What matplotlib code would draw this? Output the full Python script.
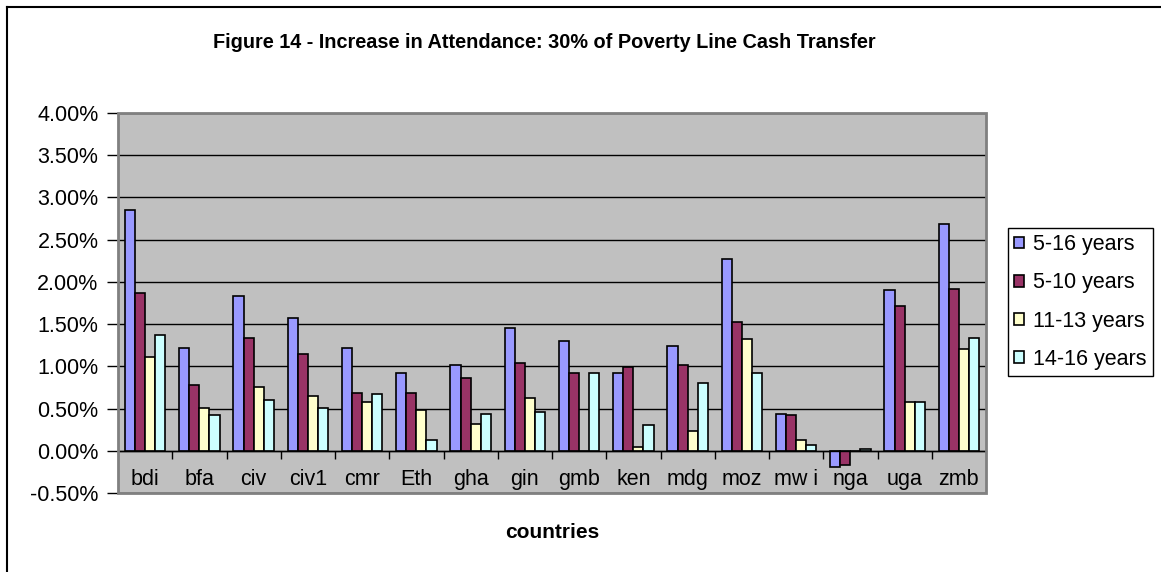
import numpy as np
import matplotlib
matplotlib.use('Agg')
import matplotlib.pyplot as plt
from matplotlib.patches import Rectangle
from matplotlib.lines import Line2D

plt.rcParams['font.family'] = ['Liberation Sans', 'DejaVu Sans']

countries = ['bdi', 'bfa', 'civ', 'civ1', 'cmr', 'Eth', 'gha', 'gin', 'gmb',
             'ken', 'mdg', 'moz', 'mw i', 'nga', 'uga', 'zmb']
series_names = ['5-16 years', '5-10 years', '11-13 years', '14-16 years']

# increase in attendance, in percent
age_5_16 = [2.85, 1.22, 1.83, 1.57, 1.22, 0.92, 1.01, 1.45, 1.30, 0.92, 1.24, 2.27, 0.44, -0.19, 1.90, 2.69]
age_5_10 = [1.87, 0.78, 1.34, 1.15, 0.69, 0.69, 0.86, 1.04, 0.92, 0.99, 1.01, 1.52, 0.42, -0.17, 1.71, 1.92]
age_11_13 = [1.11, 0.51, 0.76, 0.65, 0.58, 0.48, 0.32, 0.62, 0.0, 0.04, 0.23, 1.32, 0.13, 0.0, 0.58, 1.20]
age_14_16 = [1.37, 0.42, 0.60, 0.51, 0.67, 0.13, 0.44, 0.46, 0.92, 0.30, 0.80, 0.92, 0.07, 0.02, 0.58, 1.34]

colors = ['#9999FF', '#993366', '#FFFFCC', '#CCFFFF']

W, H = 1161, 572
fig = plt.figure(figsize=(W / 100, H / 100), dpi=100)
fig.patch.set_facecolor('white')

# plot area in pixels: x 118..986, y 113..493
ax = fig.add_axes([118 / W, (H - 493) / H, (986 - 118) / W, (493 - 113) / H])
ax.set_facecolor('#C0C0C0')

x = np.arange(len(countries))
w = 0.186
data = [age_5_16, age_5_10, age_11_13, age_14_16]
for i, (vals, col, name) in enumerate(zip(data, colors, series_names)):
    ax.bar(x + (i - 1.5) * w, vals, w, color=col, edgecolor='black',
           linewidth=1.2, label=name, zorder=3)

ax.set_xlim(-0.5, len(countries) - 0.5)
ax.set_ylim(-0.5, 4.0)
yt = np.arange(-0.5, 4.01, 0.5)
ax.set_yticks(yt)
ax.set_yticklabels(['%.2f%%' % v for v in yt])
ax.yaxis.grid(True, color='black', linewidth=1.0, zorder=1)
ax.set_axisbelow(True)
ax.tick_params(axis='y', direction='out', length=8, width=1, color='black',
               labelsize=15.5, pad=6)

# category axis crosses at zero
ax.spines['bottom'].set_position(('data', 0))
ax.spines['bottom'].set_color('black')
ax.spines['bottom'].set_linewidth(1.0)
ax.spines['bottom'].set_zorder(4)
for s in ['top', 'left', 'right']:
    ax.spines[s].set_visible(False)
ax.set_xticks(x)
ax.set_xticklabels(countries)
ax.set_xticks(np.arange(0.5, len(countries) - 1, 1.0), minor=True)
ax.tick_params(axis='x', which='major', length=0, labelsize=15.5, pad=13)
ax.tick_params(axis='x', which='minor', direction='out', length=6, width=1, color='black')

ax.add_patch(Rectangle((0, 0), 1, 1, transform=ax.transAxes, fill=False,
                       edgecolor='#808080', linewidth=2, clip_on=False, zorder=5))

fig.text(544 / W, 1 - 42 / H, 'Figure 14 - Increase in Attendance: 30% of Poverty Line Cash Transfer',
         ha='center', va='center', fontsize=14.3, fontweight='bold')
fig.text(552 / W, 1 - 533 / H, 'countries', ha='center', va='center',
         fontsize=15, fontweight='bold')

leg = fig.legend(loc='center left', bbox_to_anchor=(1008 / W, (H - 302) / H),
                 fontsize=15.5, handlelength=0.45, handleheight=0.45,
                 handletextpad=0.4, labelspacing=0.8, borderpad=0.3,
                 borderaxespad=0, fancybox=False, framealpha=1, edgecolor='black')
leg.get_frame().set_linewidth(1.0)

# outer chart border
fig.add_artist(Line2D([7 / W, 7 / W], [0, 1 - 7 / H], color='black', linewidth=1.5))
fig.add_artist(Line2D([7 / W, 1], [1 - 7 / H, 1 - 7 / H], color='black', linewidth=1.5))

fig.savefig('out.png', dpi=100)
